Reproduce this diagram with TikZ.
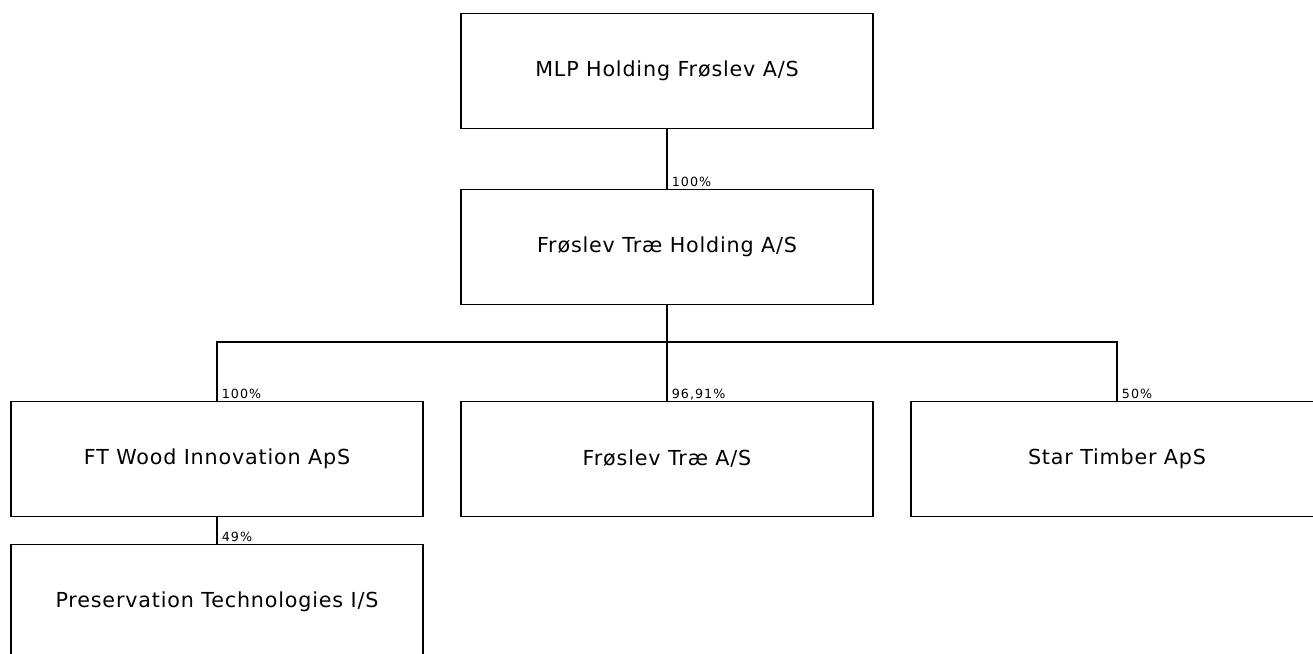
\documentclass[tikz,border=0pt]{standalone}
\usepackage{fontspec}
\setmainfont{DejaVu Sans}
\newfontfamily\boxfont[LetterSpace=4]{DejaVu Sans}
\newfontfamily\pctfont[LetterSpace=8]{DejaVu Sans}

\tikzset{
    entity/.style={draw=black, line width=0.8pt, fill=white,
        minimum width=309pt, minimum height=86.25pt, inner sep=0pt,
        font=\boxfont\fontsize{15.5pt}{18pt}\selectfont},
    pct/.style={anchor=base west, inner sep=0pt, xshift=3.5pt, yshift=1.9pt,
        font=\pctfont\fontsize{9.5pt}{11pt}\selectfont},
    link/.style={draw=black, line width=0.8pt}
}

\begin{document}
\begin{tikzpicture}[x=0.75pt, y=-0.75pt]
    \useasboundingbox (0,0) rectangle (1313,653);
    \clip (0,0) rectangle (1313,653);

    % owners
    \node[entity] (mlp) at (667,71) {MLP Holding Frøslev A/S};
    \node[entity] (holding) at (667,247) {Frøslev Træ Holding A/S};

    % subsidiaries
    \node[entity] (ftw) at (217,459) {FT Wood Innovation ApS};
    \node[entity] (fst) at (667,459) {Frøslev Træ A/S};
    \node[entity] (star) at (1117,459) {Star Timber ApS};
    \node[entity] (pres) at (217,602) {Preservation Technologies I/S};

    \coordinate (bus) at (667,342);

    \draw[link] (mlp.south) -- (holding.north);
    \draw[link] (holding.south) -- (bus);
    \draw[link] (ftw.north) |- (bus) -| (star.north);
    \draw[link] (bus) -- (fst.north);
    \draw[link] (ftw.south) -- (pres.north);

    % ownership shares
    \node[pct] (pcHolding) at (holding.north) {100\%};
    \node[pct] (pcFtw) at (ftw.north) {100\%};
    \node[pct] (pcFst) at (fst.north) {96,91\%};
    \node[pct] (pcStar) at (star.north) {50\%};
    \node[pct] (pcPres) at (pres.north) {49\%};
\end{tikzpicture}
\end{document}
